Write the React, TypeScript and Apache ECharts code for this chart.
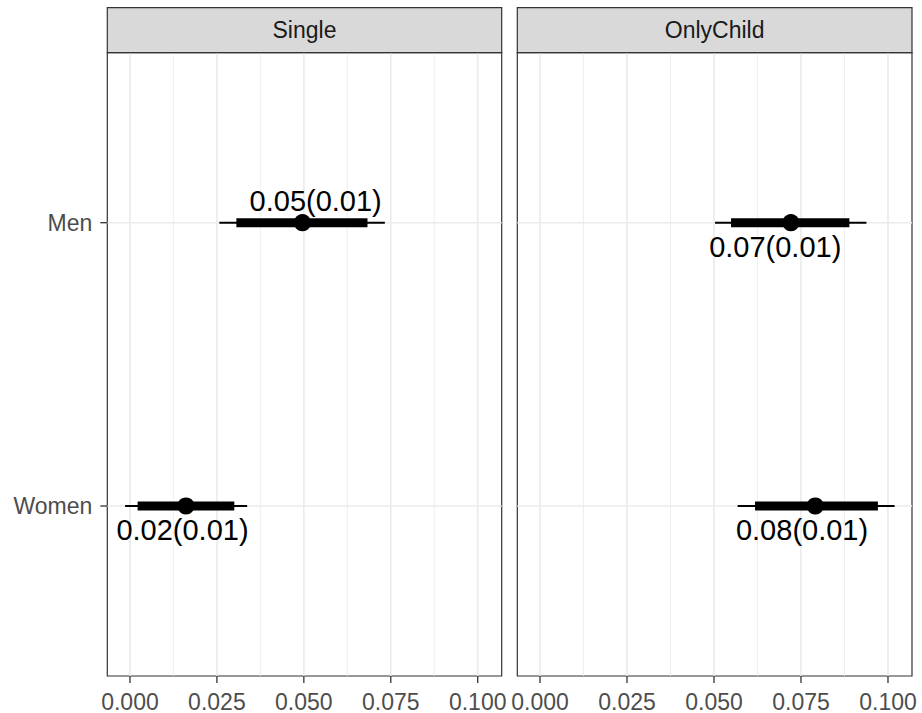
import React, { useEffect, useRef } from "react";
import * as echarts from "echarts";

// ---- data ----
const panels = ["Single", "OnlyChild"];
const categories = ["Men", "Women"];
// point estimates per panel (rows follow categories)
const estSingle = [0.0496, 0.0161];
const estOnlyChild = [0.0721, 0.0791];
const seSingle = [0.01, 0.01];
const seOnlyChild = [0.01, 0.01];
// outer (thin) interval
const outerLoSingle = [0.0257, -0.0014];
const outerHiSingle = [0.0733, 0.0337];
const outerLoOnlyChild = [0.0503, 0.0568];
const outerHiOnlyChild = [0.0938, 0.1019];
// inner (thick) interval
const innerLoSingle = [0.0306, 0.0022];
const innerHiSingle = [0.0683, 0.03];
const innerLoOnlyChild = [0.0549, 0.0618];
const innerHiOnlyChild = [0.0889, 0.0971];
// label anchors (repelled text positions, data units)
const labelXSingle = [0.0534, 0.0151];
const labelYSingle = [0.924, 2.0845];
const labelXOnlyChild = [0.0676, 0.0753];
const labelYOnlyChild = [1.087, 2.0845];
// axis ticks
const xTicks = [0, 0.025, 0.05, 0.075, 0.1];
const xMinor = [0.0125, 0.0375, 0.0625, 0.0875];
const yTicks = [1, 2];

const X_MIN = -0.00652;
const X_MAX = 0.1069;
const FONT = "'Liberation Sans', Arial, Helvetica, sans-serif";

const panelData = [
  { est: estSingle, se: seSingle, oLo: outerLoSingle, oHi: outerHiSingle, iLo: innerLoSingle, iHi: innerHiSingle, lx: labelXSingle, ly: labelYSingle },
  { est: estOnlyChild, se: seOnlyChild, oLo: outerLoOnlyChild, oHi: outerHiOnlyChild, iLo: innerLoOnlyChild, iHi: innerHiOnlyChild, lx: labelXOnlyChild, ly: labelYOnlyChild },
];

const gridPos = [
  { left: 107.3, right: 922 - 501.7 },
  { left: 517.3, right: 922 - 912 },
];
const TOP = 52.7;
const BOTTOM = 713 - 677.7;
const TICK_LEN = 7;
const GRID_COLOR = "#EBEBEB";
const AXIS_COLOR = "#333333";

function fmt(v: number) {
  return (Math.round(v * 100) / 100).toFixed(2);
}

export default function App() {
  const ref = useRef<HTMLDivElement>(null);
  useEffect(() => {
    if (!ref.current) return;
    const chart = echarts.init(ref.current, null, { renderer: "svg" });

    const grids: any[] = [];
    const xAxes: any[] = [];
    const yAxes: any[] = [];
    const series: any[] = [];
    const graphics: any[] = [];

    panels.forEach((name, pi) => {
      grids.push({
        left: gridPos[pi].left,
        right: gridPos[pi].right,
        top: TOP,
        bottom: BOTTOM,
        show: true,
        backgroundColor: "#FFFFFF",
        borderColor: AXIS_COLOR,
        borderWidth: 1.2,
        z: 0,
      });
      xAxes.push({
        type: "value",
        gridIndex: pi,
        min: X_MIN,
        max: X_MAX,
        axisLine: { show: false },
        splitLine: { show: false },
        axisTick: { show: false },
        axisLabel: {
          customValues: xTicks,
          formatter: (v: number) => v.toFixed(3),
          color: "#4D4D4D",
          fontSize: 23,
          fontFamily: FONT,
          margin: 14,
        },
      });
      yAxes.push({
        type: "value",
        gridIndex: pi,
        inverse: true,
        min: 0.4,
        max: 2.6,
        axisLine: { show: false },
        splitLine: { show: false },
        axisTick: { show: false },
        axisLabel: {
          show: pi === 0,
          customValues: yTicks,
          formatter: (v: number) => categories[Math.round(v) - 1] || "",
          color: "#4D4D4D",
          fontSize: 23,
          fontFamily: FONT,
          margin: 15,
        },
      });

      // major vertical grid lines + x ticks
      series.push({
        type: "custom",
        xAxisIndex: pi,
        yAxisIndex: pi,
        silent: true,
        clip: false,
        z: 1,
        data: xTicks.map((v) => [v, 1]),
        renderItem: (params: any, api: any) => {
          const x = api.coord([api.value(0), 1])[0];
          const cs = params.coordSys;
          return {
            type: "group",
            children: [
              {
                type: "line",
                shape: { x1: x, y1: cs.y, x2: x, y2: cs.y + cs.height },
                style: { stroke: GRID_COLOR, lineWidth: 1.6 },
              },
              {
                type: "line",
                shape: { x1: x, y1: cs.y + cs.height, x2: x, y2: cs.y + cs.height + TICK_LEN },
                style: { stroke: AXIS_COLOR, lineWidth: 1.3 },
              },
            ],
          };
        },
      });
      // minor vertical grid lines
      series.push({
        type: "custom",
        xAxisIndex: pi,
        yAxisIndex: pi,
        silent: true,
        z: 1,
        data: xMinor.map((v) => [v, 1]),
        renderItem: (params: any, api: any) => {
          const x = api.coord([api.value(0), 1])[0];
          const cs = params.coordSys;
          return {
            type: "line",
            shape: { x1: x, y1: cs.y, x2: x, y2: cs.y + cs.height },
            style: { stroke: GRID_COLOR, lineWidth: 0.8 },
          };
        },
      });
      // horizontal grid lines + y ticks (left panel only)
      series.push({
        type: "custom",
        xAxisIndex: pi,
        yAxisIndex: pi,
        silent: true,
        clip: false,
        z: 1,
        data: yTicks.map((v) => [0, v]),
        renderItem: (params: any, api: any) => {
          const y = api.coord([0, api.value(1)])[1];
          const cs = params.coordSys;
          const children: any[] = [
            {
              type: "line",
              shape: { x1: cs.x, y1: y, x2: cs.x + cs.width, y2: y },
              style: { stroke: GRID_COLOR, lineWidth: 1.6 },
            },
          ];
          if (pi === 0) {
            children.push({
              type: "line",
              shape: { x1: cs.x - TICK_LEN, y1: y, x2: cs.x, y2: y },
              style: { stroke: AXIS_COLOR, lineWidth: 1.3 },
            });
          }
          return { type: "group", children };
        },
      });

      const d = panelData[pi];
      const rows = categories.map((_, ci) => [
        d.est[ci],
        ci + 1,
        d.oLo[ci],
        d.oHi[ci],
        d.iLo[ci],
        d.iHi[ci],
        d.lx[ci],
        d.ly[ci],
        d.se[ci],
      ]);
      series.push({
        type: "custom",
        xAxisIndex: pi,
        yAxisIndex: pi,
        z: 3,
        clip: false,
        data: rows,
        renderItem: (params: any, api: any) => {
          const y = api.value(1);
          const p = api.coord([api.value(0), y]);
          const o1 = api.coord([api.value(2), y]);
          const o2 = api.coord([api.value(3), y]);
          const i1 = api.coord([api.value(4), y]);
          const i2 = api.coord([api.value(5), y]);
          const lp = api.coord([api.value(6), api.value(7)]);
          const text = `${fmt(api.value(0))}(${fmt(api.value(8))})`;
          return {
            type: "group",
            children: [
              {
                type: "line",
                shape: { x1: o1[0], y1: o1[1], x2: o2[0], y2: o2[1] },
                style: { stroke: "#000000", lineWidth: 2, lineCap: "butt" },
              },
              {
                type: "line",
                shape: { x1: i1[0], y1: i1[1], x2: i2[0], y2: i2[1] },
                style: { stroke: "#000000", lineWidth: 9, lineCap: "butt" },
              },
              {
                type: "circle",
                shape: { cx: p[0], cy: p[1], r: 8.6 },
                style: { fill: "#000000" },
              },
              {
                type: "text",
                x: lp[0],
                y: lp[1],
                style: {
                  text,
                  align: "center",
                  verticalAlign: "middle",
                  fontSize: 29,
                  fontFamily: FONT,
                  fill: "#000000",
                },
              },
            ],
          };
        },
      });

      // facet strip
      const left = gridPos[pi].left;
      const right = 922 - gridPos[pi].right;
      graphics.push({
        type: "rect",
        shape: { x: left, y: 7.7, width: right - left, height: TOP - 7.7 },
        style: { fill: "#D9D9D9", stroke: AXIS_COLOR, lineWidth: 1.2 },
        z: 10,
      });
      graphics.push({
        type: "text",
        x: (left + right) / 2,
        y: (7.7 + TOP) / 2,
        style: {
          text: name,
          align: "center",
          verticalAlign: "middle",
          fontSize: 23,
          fontFamily: FONT,
          fill: "#1A1A1A",
        },
        z: 11,
      });
    });

    chart.setOption({
      animation: false,
      backgroundColor: "#FFFFFF",
      grid: grids,
      xAxis: xAxes,
      yAxis: yAxes,
      series,
      graphic: graphics,
    });
    return () => chart.dispose();
  }, []);

  return (
    <div
      ref={ref}
      style={{ position: "fixed", left: 0, top: 0, width: 922, height: 713 }}
    />
  );
}
